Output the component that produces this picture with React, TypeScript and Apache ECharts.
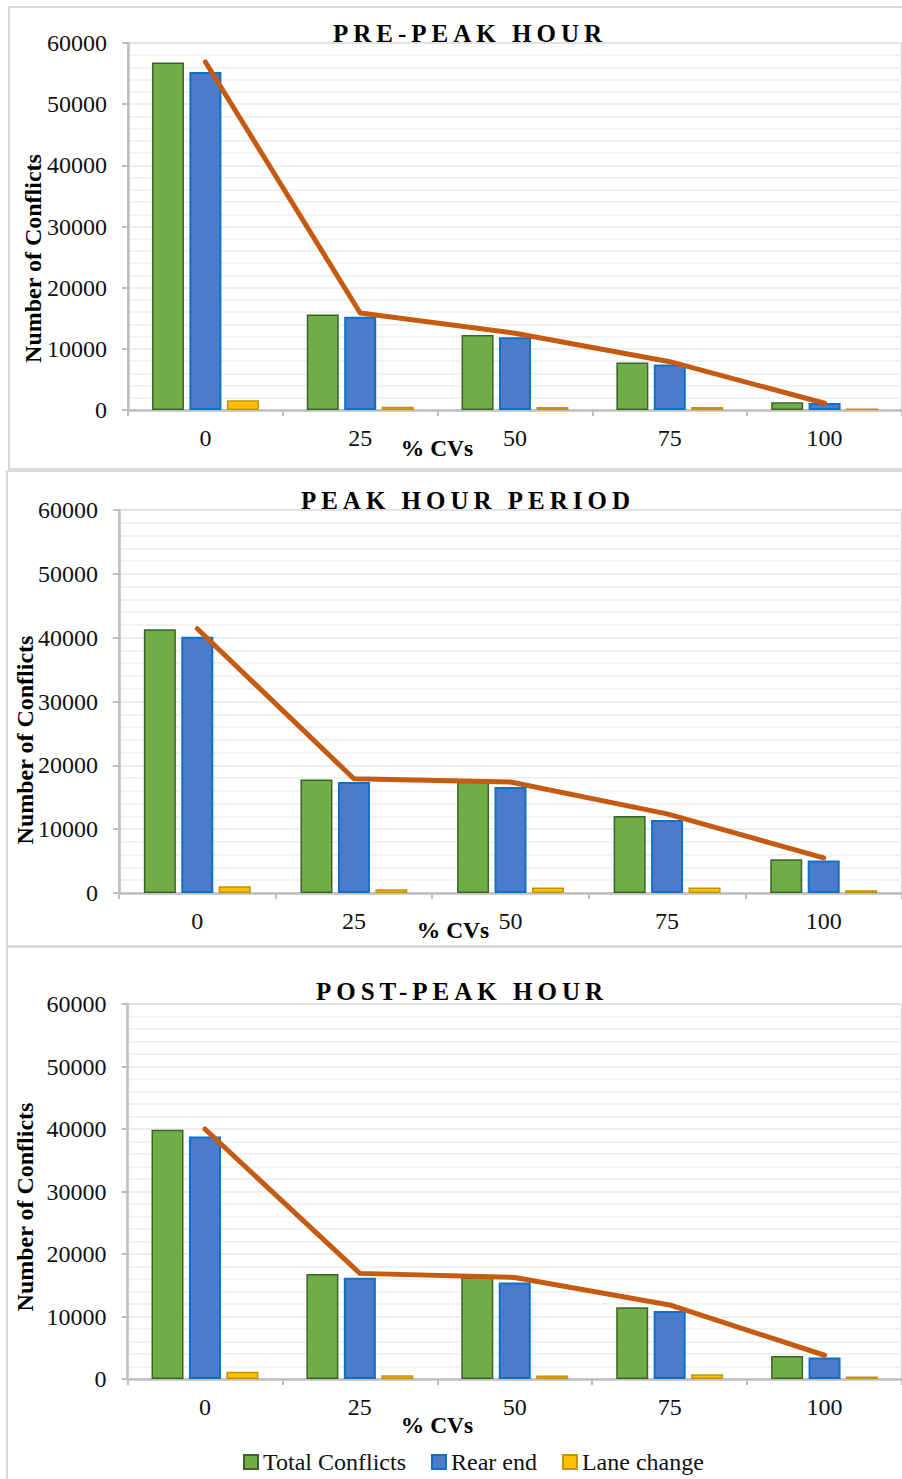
import React, { useEffect, useRef } from "react";
import * as echarts from "echarts";

// % of connected vehicles on the x axis
const cvShares = ["0", "25", "50", "75", "100"];
const seriesNames = ["Total Conflicts", "Rear end", "Lane change"];
const panelTitles = ["PRE-PEAK HOUR", "PEAK HOUR PERIOD", "POST-PEAK HOUR"];
const yMin = 0;
const yMax = 60000;
const yStep = 10000;

// Pre-peak hour
const prePeakTotal = [56800, 15600, 12250, 7750, 1250];
const prePeakRearEnd = [55250, 15250, 11900, 7450, 1150];
const prePeakLaneChange = [1580, 540, 500, 480, 250];
const prePeakTrend = [56900, 15850, 12550, 7900, 1100];

// Peak hour period
const peakTotal = [41300, 17800, 17600, 12050, 5300];
const peakRearEnd = [40150, 17400, 16600, 11450, 5100];
const peakLaneChange = [1050, 580, 850, 850, 420];
const peakTrend = [41400, 17900, 17400, 12400, 5500];

// Post-peak hour
const postPeakTotal = [39900, 16800, 16300, 11500, 3700];
const postPeakRearEnd = [38800, 16200, 15450, 10900, 3450];
const postPeakLaneChange = [1150, 600, 560, 770, 400];
const postPeakTrend = [40000, 16900, 16250, 11850, 3800];

const panelData = [
  [prePeakTotal, prePeakRearEnd, prePeakLaneChange, prePeakTrend],
  [peakTotal, peakRearEnd, peakLaneChange, peakTrend],
  [postPeakTotal, postPeakRearEnd, postPeakLaneChange, postPeakTrend],
];

const SERIF = "'Liberation Serif', 'Times New Roman', serif";

// Layout of the three stacked panels
const panels = [
  {
    frame: { x: 9, y: 7, h: 462 },
    grid: { left: 128, top: 43, width: 777, height: 367 },
    title: { x: 470, y: 33.6 },
    xName: { x: 437, y: 447.6 },
    yName: { x: 33, y: 258.5 },
  },
  {
    frame: { x: 7, y: 471, h: 476 },
    grid: { left: 119, top: 510, width: 785, height: 383 },
    title: { x: 468, y: 500.6 },
    xName: { x: 453, y: 929.6 },
    yName: { x: 25, y: 740 },
  },
  {
    frame: { x: 7, y: 946, h: 600 },
    grid: { left: 127.5, top: 1004, width: 775, height: 375 },
    title: { x: 462, y: 991.6 },
    xName: { x: 437, y: 1425.3 },
    yName: { x: 25, y: 1207 },
  },
];

const barStyles = [
  { color: "#70AD47", borderColor: "#3B6428", borderWidth: 1.5 },
  { color: "#4A7CCB", borderColor: "#0F70C8", borderWidth: 2 },
  { color: "#FFC000", borderColor: "#C29400", borderWidth: 1.5 },
];

function buildOption() {
  const grids: any[] = [];
  const xAxes: any[] = [];
  const yAxes: any[] = [];
  const series: any[] = [];
  const graphics: any[] = [];

  panels.forEach((p, i) => {
    grids.push({
      ...p.grid,
      show: true,
      borderColor: "#BFBFBF",
      borderWidth: 1.5,
      backgroundColor: "#FFFFFF",
      containLabel: false,
    });
    xAxes.push({
      type: "category",
      gridIndex: i,
      data: cvShares,
      boundaryGap: true,
      axisLine: { show: true, lineStyle: { color: "#BFBFBF", width: 2.5 } },
      axisTick: { show: true, length: 6, lineStyle: { color: "#BFBFBF", width: 2 } },
      axisLabel: { fontSize: 24, fontFamily: SERIF, color: "#111", margin: 16 },
      splitLine: { show: false },
    });
    yAxes.push({
      type: "value",
      gridIndex: i,
      min: yMin,
      max: yMax,
      interval: yStep,
      axisLine: { show: true, lineStyle: { color: "#BFBFBF", width: 2.5 } },
      axisTick: { show: true, length: 6, lineStyle: { color: "#BFBFBF", width: 2 } },
      axisLabel: {
        fontSize: 24,
        fontFamily: SERIF,
        color: "#111",
        margin: 21,
        formatter: (v: number) => String(v),
      },
      splitLine: { show: true, lineStyle: { color: "#E8E8E8", width: 1.5 } },
      minorTick: { show: false, splitNumber: 5 },
      minorSplitLine: { show: true, lineStyle: { color: "#EEEEEE", width: 1.5 } },
    });

    const [total, rear, lane, trend] = panelData[i];
    [total, rear, lane].forEach((vals, k) => {
      series.push({
        type: "bar",
        name: seriesNames[k],
        xAxisIndex: i,
        yAxisIndex: i,
        data: vals,
        barWidth: 32,
        barGap: "17%",
        itemStyle: barStyles[k],
        z: 2,
      });
    });
    series.push({
      type: "line",
      name: "trend",
      xAxisIndex: i,
      yAxisIndex: i,
      data: trend,
      symbol: "none",
      lineStyle: { color: "#C55A11", width: 5, cap: "round", join: "round" },
      itemStyle: { color: "#C55A11" },
      z: 5,
    });

    graphics.push({
      type: "rect",
      shape: { x: p.frame.x, y: p.frame.y, width: 1000, height: p.frame.h },
      style: { fill: "none", stroke: "#D9D9D9", lineWidth: 2 },
      silent: true,
      z: -1,
    });
    graphics.push({
      type: "text",
      x: p.title.x,
      y: p.title.y,
      style: {
        text: panelTitles[i],
        fontSize: 25,
        fontWeight: "bold",
        fontFamily: SERIF,
        fill: "#000",
        align: "center",
        verticalAlign: "middle",
      },
      z: 10,
    });
    graphics.push({
      type: "text",
      x: p.xName.x,
      y: p.xName.y,
      style: {
        text: "% CVs",
        fontSize: 23.5,
        fontWeight: "bold",
        fontFamily: SERIF,
        fill: "#000",
        align: "center",
        verticalAlign: "middle",
      },
      z: 10,
    });
    graphics.push({
      type: "text",
      x: p.yName.x,
      y: p.yName.y,
      rotation: Math.PI / 2,
      style: {
        text: "Number of Conflicts",
        fontSize: 24,
        fontWeight: "bold",
        fontFamily: SERIF,
        fill: "#000",
        align: "center",
        verticalAlign: "middle",
      },
      z: 10,
    });
  });

  return {
    animation: false,
    backgroundColor: "#FFFFFF",
    grid: grids,
    xAxis: xAxes,
    yAxis: yAxes,
    series,
    graphic: graphics,
    legend: {
      data: seriesNames,
      left: 238,
      top: 1445,
      orient: "horizontal",
      icon: "rect",
      itemWidth: 14,
      itemHeight: 14,
      itemGap: 25,
      textStyle: { fontSize: 24, fontFamily: SERIF, color: "#111", lineHeight: 24 },
    },
  };
}

export default function App() {
  const ref = useRef<HTMLDivElement>(null);

  useEffect(() => {
    const el = ref.current;
    if (!el) return;
    const chart = echarts.init(el, undefined, { renderer: "svg" });

    // Panel titles are set with wide tracking
    const spaceTitles = () => {
      el.querySelectorAll("text").forEach((t) => {
        if (panelTitles.includes((t.textContent || "").trim())) {
          t.setAttribute("letter-spacing", "5");
          (t as SVGTextElement).style.letterSpacing = "5px";
        }
      });
    };
    chart.on("finished", spaceTitles);
    chart.setOption(buildOption() as any);
    spaceTitles();
    const raf = requestAnimationFrame(spaceTitles);

    return () => {
      cancelAnimationFrame(raf);
      chart.dispose();
    };
  }, []);

  return (
    <div
      ref={ref}
      style={{
        position: "absolute",
        left: 0,
        top: 0,
        width: 902,
        height: 1479,
        background: "#FFFFFF",
      }}
    />
  );
}
